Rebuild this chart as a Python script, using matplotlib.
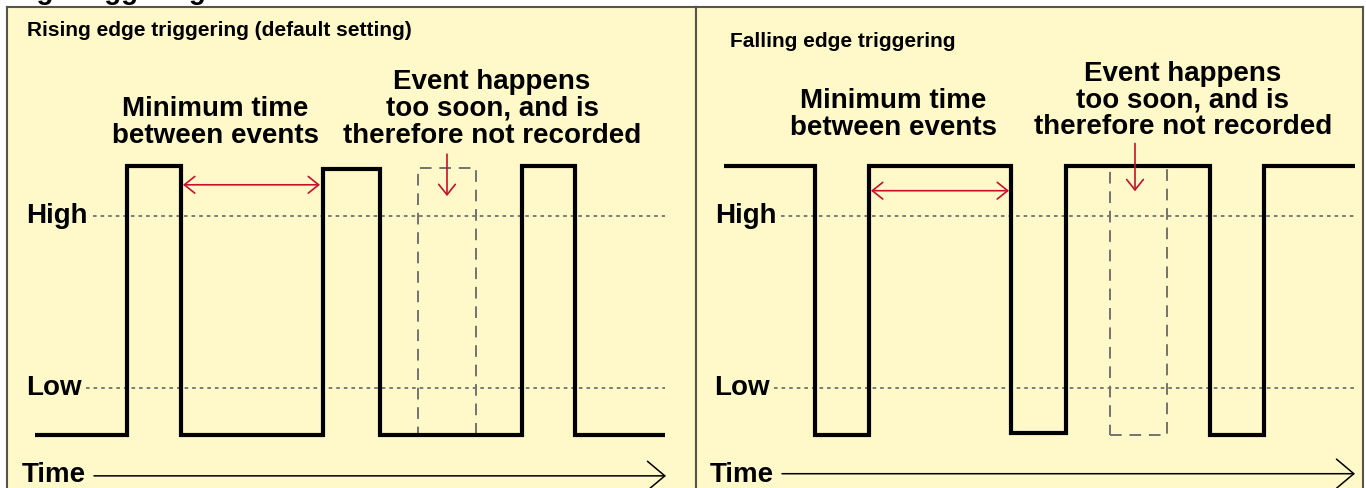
import matplotlib.pyplot as plt
from matplotlib.patches import Rectangle

plt.rcParams['font.family'] = ['Liberation Sans', 'DejaVu Sans']
plt.rcParams['font.weight'] = 'bold'

# signal as step edges (time, ms) and level between edges (V)
rise_edges = [0, 9.2, 14.6, 28.8, 34.5, 48.7, 54.0, 63.0]
rise_levels = [0, 5, 0, 4.95, 0, 5, 0]
rise_missed = [38.3, 44.1]   # pulse that comes too soon
rise_gap = [14.8, 28.5]      # minimum time between events

fall_edges = [0, 9.1, 14.5, 28.7, 34.2, 48.6, 54.0, 63.1]
fall_levels = [5, 0, 5, 0.03, 5, 0, 5]
fall_missed = [38.6, 44.3]
fall_gap = [14.7, 28.5]

level_names = ['High', 'Low']
level_values = [4.07, 0.87]

min_lines = ['Minimum time', 'between events']
event_lines = ['Event happens', 'too soon, and is', 'therefore not recorded']

RED = '#c8102e'
GREY = '#727272'
FILL = '#fff8c8'
EDGE = '#55554d'

W, H = 1366, 489
fig = plt.figure(figsize=(W / 100, H / 100), dpi=100)
fig.patch.set_facecolor('white')

# partly hidden heading above the panels
fig.text(1 / W, 1 + 1 / H, 'Edge triggering', fontsize=20, va='baseline', ha='left')


def draw_panel(left_px, right_px, xlim, edges, levels, missed, miss_top, gap, gap_y,
               down_x, down_y, title, title_xy, min_x, min_y0, ev_x, ev_y0,
               lbl_right, dot_start, time_x0, time_y, time_lbl_x):
    ax = fig.add_axes([left_px / W, -3 / H, (right_px - left_px) / W, (492 - 8) / H])
    ax.set_xlim(*xlim)
    ax.set_ylim(-1.052, 7.961)
    ax.set_facecolor(FILL)
    ax.set_xticks([])
    ax.set_yticks([])
    for s in ax.spines.values():
        s.set_color(EDGE)
        s.set_linewidth(1.5)

    # threshold levels
    for name, v, xr, xs in zip(level_names, level_values, lbl_right, dot_start):
        ax.plot([xs, 63.0], [v, v], color=GREY, lw=1.3, ls=(0, (2, 2.2)), zorder=1)
        ax.text(xr, v - 0.11, name, fontsize=20, ha='right', va='baseline')

    # ignored pulse
    ax.add_patch(Rectangle((missed[0], 0), missed[1] - missed[0], miss_top, fill=False,
                           ec=GREY, lw=1.4, ls=(0, (6, 4)), zorder=2))

    # signal
    ax.stairs(levels, edges, baseline=None, color='black', lw=3, zorder=3)

    # arrows
    ax.annotate('', xy=(gap[1], gap_y), xytext=(gap[0], gap_y),
                arrowprops=dict(arrowstyle='<->,head_length=0.75,head_width=0.6',
                                color=RED, lw=1.2, shrinkA=0, shrinkB=0, mutation_scale=10))
    ax.annotate('', xy=(down_x, down_y[1]), xytext=(down_x, down_y[0]),
                arrowprops=dict(arrowstyle='->,head_length=0.75,head_width=0.6',
                                color=RED, lw=1.2, shrinkA=0, shrinkB=0, mutation_scale=10))
    ax.annotate('', xy=(63.1, time_y), xytext=(time_x0, time_y),
                arrowprops=dict(arrowstyle='->,head_length=1.25,head_width=1.05',
                                color='black', lw=1.1, shrinkA=0, shrinkB=0, mutation_scale=10))
    ax.text(time_lbl_x, -0.86, 'Time', fontsize=20, ha='left', va='baseline')

    # texts
    ax.text(title_xy[0], title_xy[1], title, fontsize=15, ha='left', va='baseline')
    for i, line in enumerate(min_lines):
        ax.text(min_x, min_y0 - 0.5 * i, line, fontsize=20, ha='center', va='baseline')
    for i, line in enumerate(event_lines):
        ax.text(ev_x, ev_y0 - 0.5 * i, line, fontsize=20, ha='center', va='baseline')
    return ax


draw_panel(7, 696, (-2.8, 66.1), rise_edges, rise_levels, rise_missed, 4.96,
           rise_gap, 4.65, 41.2, (5.22, 4.44),
           'Rising edge triggering (default setting)', (-0.8, 7.44),
           18.0, 5.95, 45.7, 6.45, [5.3, 4.7], [5.8, 5.1], 5.9, -0.77, -1.3)

draw_panel(696, 1363, (-2.8, 63.9), fall_edges, fall_levels, fall_missed, 5.0,
           fall_gap, 4.54, 41.1, (5.42, 4.53),
           'Falling edge triggering', (0.6, 7.24),
           16.9, 6.10, 45.9, 6.61, [5.3, 4.6], [5.7, 5.0], 5.8, -0.73, -1.4)

fig.savefig('out.png', dpi=100, facecolor='white')
